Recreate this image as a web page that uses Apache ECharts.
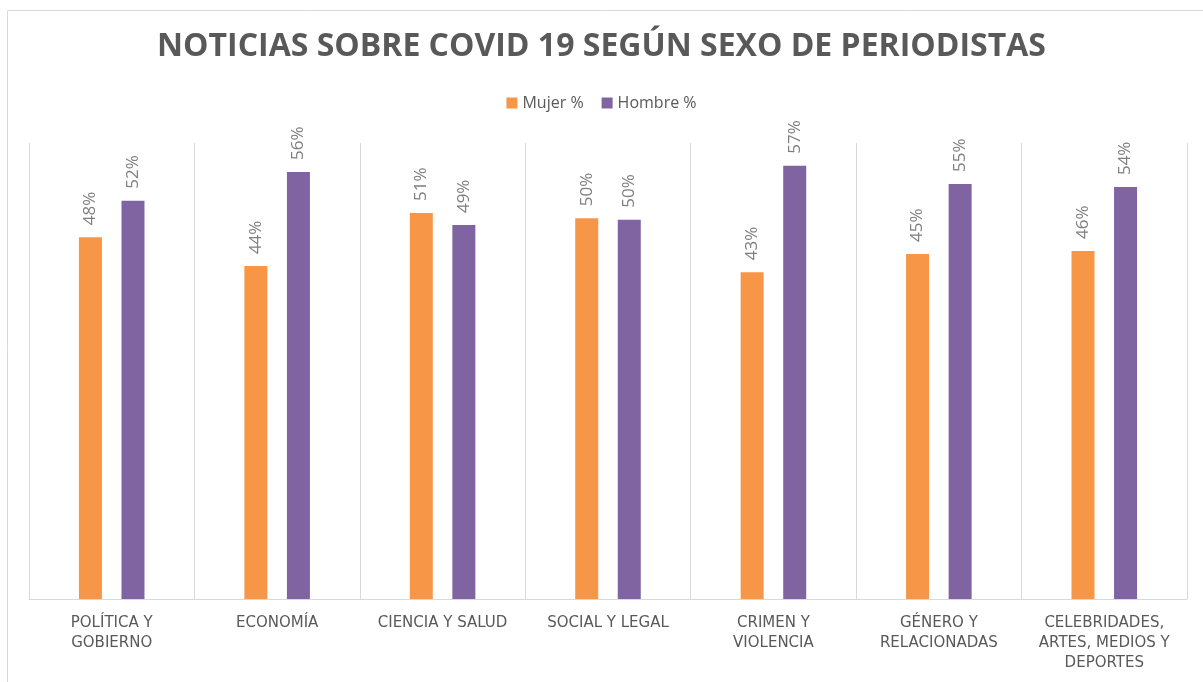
<!DOCTYPE html>
<html>
    <head>
        <meta charset="utf-8">
        <script src="https://cdn.jsdelivr.net/npm/echarts@6/dist/echarts.min.js"></script>
    </head>
    <body>
        <style>
            html, body, #main {
                width: 100%;
                height: 100%;
                margin: 0;
                background: #fff;
            }
        </style>
        <div id="main"></div>
        <script>

            var categories = [
                'POLÍTICA Y\nGOBIERNO',
                'ECONOMÍA',
                'CIENCIA Y SALUD',
                'SOCIAL Y LEGAL',
                'CRIMEN Y\nVIOLENCIA',
                'GÉNERO Y\nRELACIONADAS',
                'CELEBRIDADES,\nARTES, MEDIOS Y\nDEPORTES'
            ];
            var mujer = [47.6, 43.8, 50.8, 50.1, 43.0, 45.4, 45.8];
            var hombre = [52.4, 56.2, 49.2, 49.9, 57.0, 54.6, 54.2];

            var chart = echarts.init(document.getElementById('main'));

            var barLabel = {
                show: true,
                position: 'top',
                rotate: 90,
                align: 'left',
                verticalAlign: 'middle',
                distance: 12,
                color: '#7f7f7f',
                fontSize: 17,
                fontFamily: 'Open Sans',
                formatter: function (p) {
                    return Math.round(p.value) + '%';
                }
            };

            chart.setOption({
                animation: false,
                graphic: [{
                    type: 'rect',
                    shape: { x: 7.5, y: 10.5, width: 1210, height: 690 },
                    style: { fill: null, stroke: '#d9d9d9', lineWidth: 1 },
                    silent: true
                }],
                title: {
                    text: 'NOTICIAS SOBRE COVID 19 SEGÚN SEXO DE PERIODISTAS',
                    left: 'center',
                    top: 26,
                    textStyle: {
                        color: '#595959',
                        fontSize: 32,
                        fontWeight: 'bold',
                        fontFamily: 'Open Sans'
                    }
                },
                legend: {
                    top: 90,
                    left: 'center',
                    itemWidth: 11,
                    itemHeight: 11,
                    itemGap: 18,
                    icon: 'rect',
                    textStyle: {
                        color: '#595959',
                        fontSize: 16,
                        fontFamily: 'Open Sans'
                    },
                    data: ['Mujer %', 'Hombre %']
                },
                grid: {
                    left: 29,
                    right: 16,
                    top: 143,
                    bottom: 83
                },
                xAxis: {
                    type: 'category',
                    data: categories,
                    axisLine: { lineStyle: { color: '#d9d9d9' } },
                    axisTick: { show: false },
                    splitLine: { show: true, lineStyle: { color: '#d9d9d9', width: 1 } },
                    axisLabel: {
                        interval: 0,
                        margin: 14,
                        color: '#595959',
                        fontSize: 15,
                        lineHeight: 20,
                        fontFamily: 'DejaVu Sans'
                    }
                },
                yAxis: {
                    type: 'value',
                    min: 0,
                    max: 60,
                    show: false,
                    splitLine: { show: false }
                },
                series: [{
                    name: 'Mujer %',
                    type: 'bar',
                    data: mujer,
                    barWidth: 23,
                    barGap: '85%',
                    itemStyle: { color: '#f79646' },
                    label: barLabel
                }, {
                    name: 'Hombre %',
                    type: 'bar',
                    data: hombre,
                    barWidth: 23,
                    itemStyle: { color: '#8064a2' },
                    label: barLabel
                }]
            });

        </script>
    </body>
</html>
